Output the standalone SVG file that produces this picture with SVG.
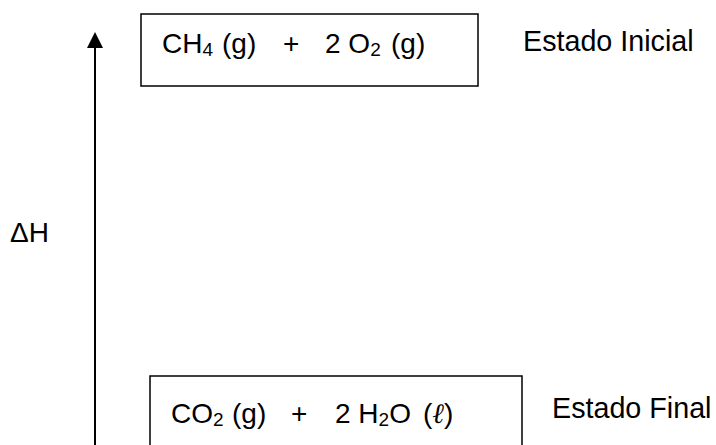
<svg xmlns="http://www.w3.org/2000/svg" width="716" height="445" viewBox="0 0 716 445">
<style>
text{font-family:"Liberation Sans",Arial,sans-serif;font-size:28px;fill:#000}
.sub{font-size:19px}
.lbl{font-size:28.7px}
.box{fill:#fff;stroke:#000;stroke-width:1.5}
.ell{font-family:"Liberation Serif","DejaVu Serif",serif;font-style:italic}
</style>
<rect width="716" height="445" fill="#fff"/>
<g id="connectors">
<line x1="95" y1="445" x2="95" y2="46" stroke="#000" stroke-width="2"/>
<polygon points="95,32 87,48 103,48" fill="#000"/>
</g>
<g id="label-dH"><text x="10" y="242">ΔH</text></g>
<g id="node-initial">
<rect class="box" x="141" y="14" width="337" height="72"/>
<text x="162" y="53">CH<tspan class="sub" dy="3">4</tspan><tspan dy="-3" x="222">(g)</tspan></text>
<text x="283" y="53">+</text>
<text x="325" y="53">2 O<tspan class="sub" dy="3">2</tspan><tspan dy="-3" x="391">(g)</tspan></text>
</g>
<g id="label-initial"><text class="lbl" x="523" y="51">Estado Inicial</text></g>
<g id="node-final">
<rect class="box" x="150" y="376" width="372" height="80"/>
<text x="171" y="423">CO<tspan class="sub" dy="3">2</tspan><tspan dy="-3" x="232">(g)</tspan></text>
<text x="291" y="423">+</text>
<text x="335" y="423">2 H<tspan class="sub" dy="3">2</tspan><tspan dy="-3">O</tspan><tspan x="423">(</tspan><tspan class="ell">ℓ</tspan>)</text>
</g>
<g id="label-final"><text class="lbl" x="552" y="418">Estado Final</text></g>
</svg>
